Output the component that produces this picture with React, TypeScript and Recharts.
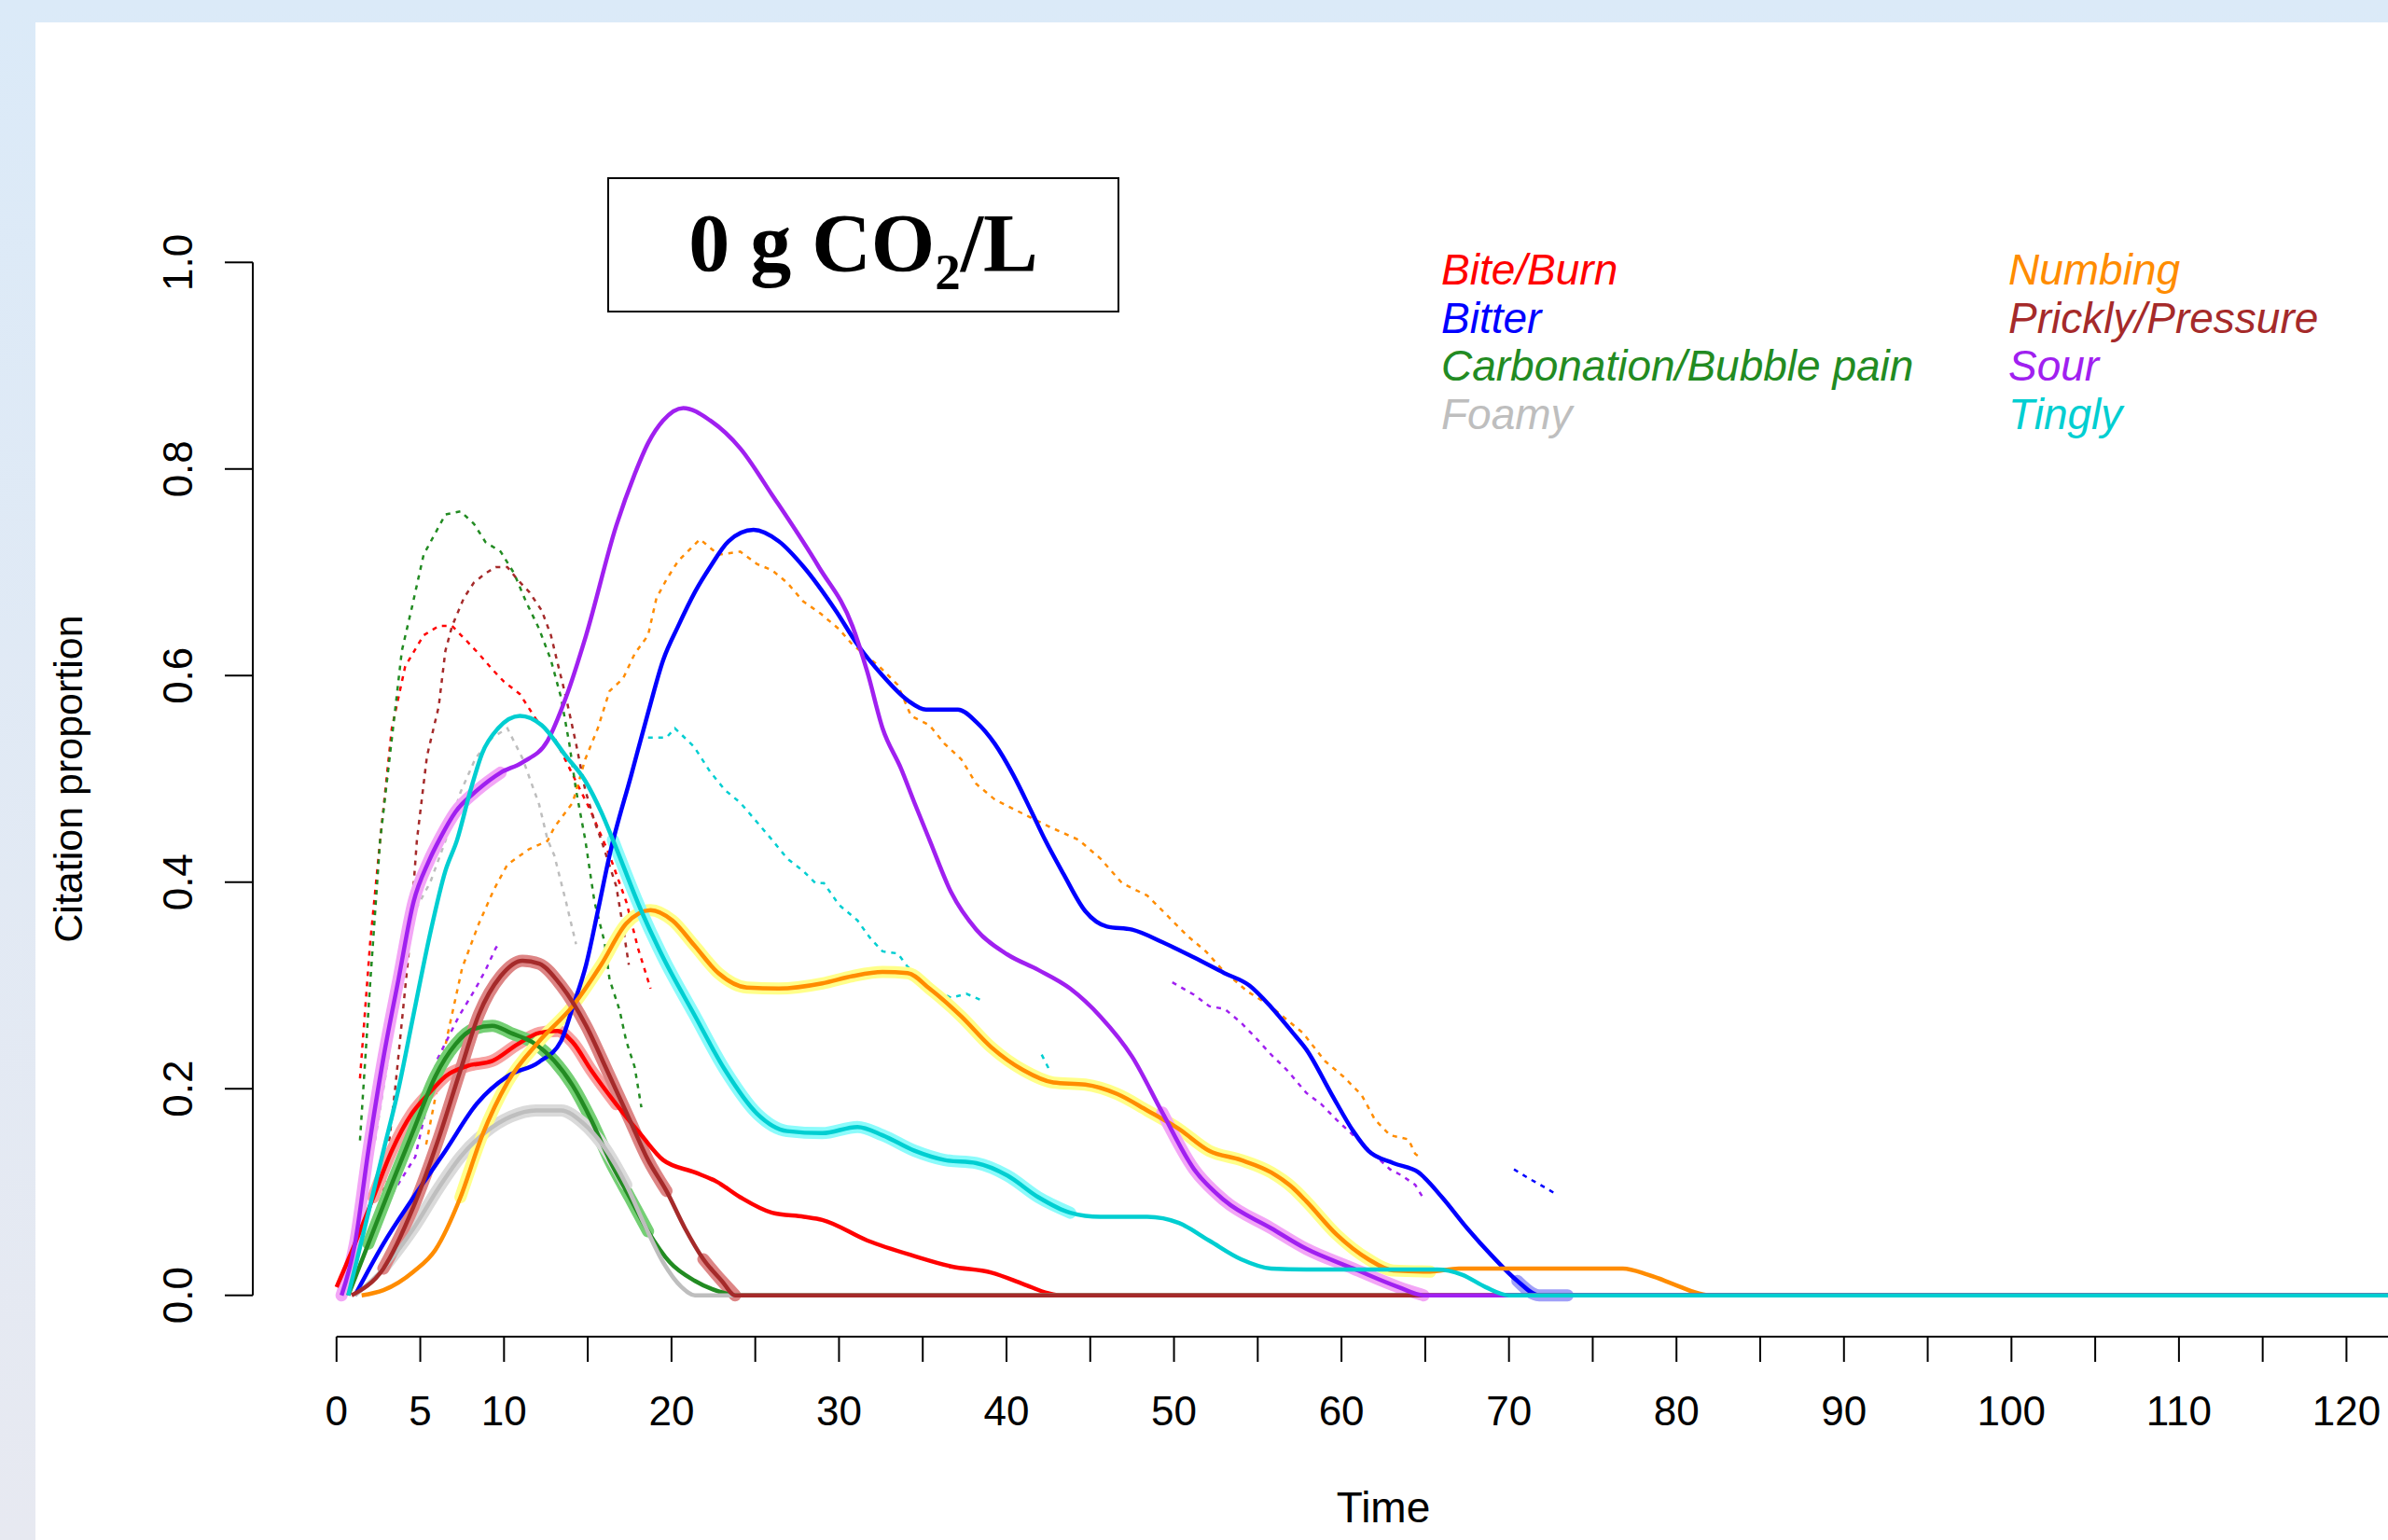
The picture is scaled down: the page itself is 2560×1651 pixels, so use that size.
import React from 'react';
import { LineChart, Line, XAxis, YAxis, ReferenceLine, Legend } from 'recharts';

type Pt = [number, number | null];

// ---------- labels / categories ----------
const seriesNames = ['Bite/Burn', 'Bitter', 'Carbonation/Bubble pain', 'Foamy', 'Numbing', 'Prickly/Pressure', 'Sour', 'Tingly'];
const seriesColors = ['#FF0000', '#0000FF', '#228B22', '#BEBEBE', '#FF8C00', '#A52A2A', '#A020F0', '#00CED1'];
const haloColors = ['#F7A1A1', '#A0A0F8', '#74CF74', '#DADADA', '#FFFF8A', '#DD8585', '#F3A6F6', '#8CFBFB'];

const xTickValues = [0, 5, 10, 15, 20, 25, 30, 35, 40, 45, 50, 55, 60, 65, 70, 75, 80, 85, 90, 95, 100, 105, 110, 115, 120, 125];
const xTickLabels = ['0', '5', '10', '', '20', '', '30', '', '40', '', '50', '', '60', '', '70', '', '80', '', '90', '', '100', '', '110', '', '120', ''];
const yTickValues = [0, 0.2, 0.4, 0.6, 0.8, 1];
const yTickLabels = ['0.0', '0.2', '0.4', '0.6', '0.8', '1.0'];

const titleMain = '0 g CO';
const titleSub = '2';
const titleTail = '/L';
const xAxisTitle = 'Time';
const yAxisTitle = 'Citation proportion';

// ---------- smoothed curves (solid) ----------
const smoothBiteBurn: Pt[] = [[0,0.008],[1.1,0.05],[2.2,0.095],[3.3,0.14],[4.5,0.176],[5.6,0.197],[6.5,0.212],[7.8,0.222],[9.3,0.227],[10.8,0.243],[12.1,0.254],[13.2,0.256],[14.1,0.245],[15.2,0.218],[16.7,0.185],[18.2,0.155],[19.5,0.131],[21.4,0.119],[22.7,0.11],[24.1,0.095],[26,0.08],[27.9,0.076],[29,0.073],[31.7,0.053],[34.5,0.038],[36.7,0.028],[39.1,0.022],[41,0.011],[42.5,0.002],[43.2,0],[125,0]];
const smoothBitter: Pt[] = [[1.1,0],[2.8,0.05],[4.6,0.095],[6.5,0.14],[8.4,0.186],[10.2,0.212],[12.1,0.226],[13.4,0.246],[14.1,0.279],[14.9,0.32],[15.6,0.372],[16.3,0.426],[17.6,0.504],[18.6,0.564],[19.5,0.615],[20.4,0.648],[21.4,0.681],[22.3,0.705],[23.4,0.73],[24.9,0.741],[26.4,0.73],[27.9,0.705],[29.8,0.663],[31.1,0.63],[32.6,0.6],[34.1,0.576],[35.2,0.567],[37.1,0.567],[38.2,0.555],[39.3,0.534],[40.4,0.504],[41.5,0.468],[42.3,0.441],[43.4,0.408],[44.7,0.372],[46,0.357],[47.5,0.354],[49.3,0.342],[51.2,0.327],[53,0.312],[54.5,0.3],[55.8,0.279],[57.1,0.254],[57.9,0.238],[59.4,0.195],[60.7,0.159],[61.6,0.14],[63.1,0.128],[64.6,0.119],[66,0.095],[67.5,0.065],[69,0.038],[70.5,0.014],[71.8,0],[73.5,0],[125,0]];
const smoothCarbonation: Pt[] = [[0.7,0],[1.9,0.05],[3.2,0.104],[4.6,0.16],[5.9,0.212],[7.1,0.243],[8.2,0.258],[9.3,0.261],[10.4,0.254],[11.7,0.245],[13,0.227],[14.1,0.203],[15.2,0.17],[16.3,0.131],[17.5,0.095],[18.6,0.062],[19.9,0.032],[21.4,0.014],[23.2,0.002],[23.8,0],[125,0]];
const smoothFoamy: Pt[] = [[1.1,0],[2.8,0.026],[4.6,0.065],[6.1,0.104],[7.4,0.134],[8.9,0.158],[10.4,0.173],[11.9,0.179],[13.4,0.179],[14.7,0.167],[16,0.143],[17.3,0.107],[18.4,0.068],[19.5,0.032],[20.6,0.008],[21.4,0],[125,0]];
const smoothNumbing: Pt[] = [[1.5,0],[2.8,0.005],[4.6,0.023],[5.9,0.044],[7.4,0.095],[8.7,0.155],[10.2,0.206],[12.1,0.246],[14.1,0.28],[15.8,0.32],[17.3,0.36],[18.75,0.373],[20.05,0.363],[21.35,0.339],[22.8,0.312],[24.5,0.298],[26.4,0.297],[29,0.302],[30.8,0.309],[32.6,0.313],[34.1,0.312],[35.4,0.297],[37.3,0.27],[39.1,0.24],[41,0.218],[42.8,0.206],[44.7,0.204],[46.6,0.195],[48.4,0.179],[50.3,0.161],[52.1,0.14],[54,0.131],[55.8,0.119],[57.1,0.104],[57.9,0.091],[59.7,0.059],[61.6,0.035],[63.1,0.024],[65.3,0.023],[67,0.026],[76.8,0.026],[78.3,0.02],[79.8,0.011],[81.3,0.002],[82,0],[125,0]];
const smoothPrickly: Pt[] = [[0.9,0],[2.8,0.026],[4.6,0.086],[6.1,0.152],[7.4,0.218],[8.5,0.272],[9.8,0.309],[11.1,0.324],[12.1,0.321],[13.4,0.3],[14.9,0.261],[16.2,0.216],[17.5,0.17],[18.6,0.131],[19.7,0.101],[20.8,0.065],[21.9,0.035],[23,0.014],[23.8,0],[125,0]];
const smoothSour: Pt[] = [[0.3,0],[1.1,0.05],[1.9,0.14],[2.8,0.23],[3.7,0.306],[4.6,0.381],[5.5,0.42],[6.2,0.443],[7.1,0.468],[8.4,0.489],[9.8,0.506],[11.1,0.516],[12.6,0.537],[13.7,0.579],[14.9,0.639],[16.7,0.745],[17.8,0.795],[18.6,0.825],[19.5,0.847],[20.7,0.859],[22.3,0.847],[24.1,0.82],[26,0.775],[28.8,0.705],[30.8,0.648],[31.7,0.603],[32.6,0.549],[33.7,0.51],[34.5,0.477],[35.4,0.441],[36.7,0.39],[38.2,0.354],[40.05,0.33],[41.9,0.315],[43.8,0.297],[45.6,0.27],[47.5,0.231],[49.3,0.177],[51.2,0.122],[53,0.092],[55.8,0.065],[57.9,0.045],[60.7,0.026],[63.4,0.008],[64.9,0],[125,0]];
const smoothTingly: Pt[] = [[0.7,0],[1.9,0.08],[2.8,0.14],[3.7,0.2],[4.6,0.272],[5.6,0.351],[6.5,0.411],[7.2,0.441],[8,0.489],[8.7,0.525],[9.65,0.549],[10.95,0.561],[12.25,0.552],[13.7,0.522],[14.85,0.498],[15.8,0.468],[16.5,0.441],[18.2,0.372],[19.5,0.327],[21.35,0.272],[23.2,0.218],[25.1,0.176],[26.9,0.159],[29,0.157],[31.1,0.163],[32.6,0.155],[34.5,0.14],[36.3,0.131],[38.2,0.128],[40.05,0.116],[41.9,0.095],[43.8,0.08],[45.6,0.076],[48.4,0.076],[50.3,0.07],[52.1,0.053],[54,0.035],[55.8,0.026],[57.9,0.025],[65.7,0.025],[67.2,0.02],[68.6,0.008],[70,0],[125,0]];

// ---------- raw citation proportions (dotted) ----------
const rawBiteBurn: Pt[] = [[1.4,0.21],[2.0,0.34],[2.6,0.44],[3.3,0.549],[4.1,0.609],[5.2,0.639],[6.1,0.648],[6.9,0.648],[7.8,0.633],[8.5,0.621],[9.3,0.606],[10,0.594],[10.95,0.582],[11.9,0.558],[13,0.54],[14.1,0.504],[15.2,0.468],[16.3,0.426],[17.3,0.381],[18,0.336],[18.75,0.297]];
const rawBitter: Pt[] = [[70.3,0.122],[71.2,0.113],[72.2,0.104],[72.9,0.097]];
const rawCarbonation: Pt[] = [[1.4,0.15],[2.0,0.3],[2.6,0.44],[3.5,0.567],[3.9,0.624],[4.5,0.666],[5.2,0.717],[5.9,0.738],[6.5,0.756],[7.4,0.759],[8.2,0.747],[8.9,0.729],[9.8,0.72],[10.6,0.699],[11.3,0.672],[12.1,0.645],[12.8,0.615],[13.4,0.579],[13.9,0.534],[14.3,0.489],[14.85,0.441],[15.4,0.381],[16,0.342],[16.3,0.306],[16.9,0.276],[17.3,0.246],[17.8,0.221],[18.2,0.182]];
const rawFoamy: Pt[] = [[2.3,0.15],[3.0,0.22],[3.7,0.3],[4.6,0.37],[5.6,0.4],[6.5,0.44],[7.4,0.487],[8.3,0.52],[9.3,0.54],[10.2,0.549],[11.1,0.52],[12.1,0.475],[12.6,0.441],[13,0.426],[13.7,0.381],[14.3,0.34]];
const rawNumbing: Pt[] = [[5.35,0.146],[6.0,0.2],[6.6,0.25],[7.5,0.317],[8.5,0.36],[9.4,0.393],[10.2,0.417],[11.5,0.432],[12.6,0.44],[13,0.453],[14.1,0.477],[14.85,0.519],[15.6,0.549],[16.3,0.585],[17.1,0.597],[17.8,0.621],[18.6,0.639],[19.1,0.675],[19.7,0.693],[20.4,0.711],[21.7,0.732],[22.8,0.717],[24.1,0.72],[25.1,0.708],[26,0.702],[26.9,0.69],[27.85,0.672],[28.9,0.66],[30,0.645],[30.8,0.63],[32.4,0.609],[33.5,0.591],[34.3,0.561],[35.4,0.552],[36.3,0.534],[37.3,0.519],[38.2,0.495],[39.3,0.48],[40.4,0.471],[41.5,0.462],[42.65,0.453],[44.3,0.441],[45.6,0.423],[46.9,0.399],[48.4,0.387],[49.7,0.366],[50.8,0.348],[51.9,0.333],[52.9,0.315],[54.4,0.294],[55.6,0.282],[57.7,0.254],[59,0.227],[60.1,0.212],[61.2,0.194],[62,0.17],[62.9,0.155],[64,0.151],[64.4,0.137],[64.65,0.134]];
const rawPrickly: Pt[] = [[2.8,0.1],[3.5,0.2],[4.3,0.33],[4.8,0.441],[5.4,0.522],[6.1,0.57],[6.5,0.624],[6.9,0.648],[7.6,0.675],[8.2,0.69],[8.9,0.699],[9.5,0.705],[10.2,0.705],[10.8,0.693],[11.5,0.681],[12.25,0.663],[12.8,0.639],[13.2,0.612],[13.7,0.579],[14.3,0.534],[14.85,0.489],[15.4,0.459],[15.8,0.441],[16.7,0.396],[17.1,0.357],[17.45,0.32]];
const rawSour: Pt[] = [[3.0,0.09],[4.7,0.134],[6.0,0.228],[7.3,0.27],[8.3,0.297],[8.9,0.315],[9.5,0.336],[9.75,0.342],[30,null],[49.9,0.303],[51.2,0.291],[52.1,0.28],[53.05,0.277],[54,0.264],[54.9,0.249],[55.8,0.233],[56.75,0.218],[57.9,0.196],[58.8,0.185],[59.7,0.17],[60.7,0.155],[62.9,0.122],[63.6,0.116],[64.4,0.107],[64.85,0.095]];
const rawTingly: Pt[] = [[18.6,0.54],[19.7,0.54],[20.2,0.549],[21.35,0.531],[22.3,0.507],[23.2,0.489],[24.1,0.477],[24.9,0.462],[26,0.441],[26.9,0.423],[27.85,0.411],[28.6,0.399],[29.1,0.399],[30,0.378],[31.1,0.363],[31.9,0.345],[32.6,0.333],[33.5,0.331],[34.1,0.318],[34.85,0.309],[36,0.294],[36.7,0.288],[37.6,0.292],[38.6,0.285],[40,null],[42.1,0.233],[42.6,0.217]];

// ---------- highlighted (significant) time ranges ----------
const haloBiteBurn = [[1.5, 17]];
const haloBitter = [[70, 73.5]];
const haloCarbonation = [[1.5, 18.6]];
const haloFoamy = [[1.5, 17.3]];
const haloNumbing = [[7.4, 65.3]];
const haloPrickly = [[1.5, 19.7], [21.9, 23.8]];
const haloSour = [[0.3, 9.8], [49.3, 64.9]];
const haloTingly = [[16.5, 43.8]];

const smoothSeries = [smoothBiteBurn, smoothBitter, smoothCarbonation, smoothFoamy, smoothNumbing, smoothPrickly, smoothSour, smoothTingly];
const rawSeries = [rawBiteBurn, rawBitter, rawCarbonation, rawFoamy, rawNumbing, rawPrickly, rawSour, rawTingly];
const haloSeries = [haloBiteBurn, haloBitter, haloCarbonation, haloFoamy, haloNumbing, haloPrickly, haloSour, haloTingly];

const toPts = (arr: Pt[]) => arr.map(([x, y]) => ({ x, y }));
const haloPts = (arr: Pt[], ranges: number[][]) => {
  const out: { x: number; y: number | null }[] = [];
  ranges.forEach(([a, b], i) => {
    if (i > 0) out.push({ x: (ranges[i - 1][1] + a) / 2, y: null });
    arr.filter(([x]) => x >= a && x <= b).forEach(([x, y]) => out.push({ x, y }));
  });
  return out;
};

const FONT = '"Liberation Sans", Arial, sans-serif';

const renderYTick = (props: any) => {
  const { x, y, payload } = props;
  const i = yTickValues.indexOf(payload.value);
  return (
    <text x={x} y={y} transform={`rotate(-90, ${x}, ${y})`} textAnchor="middle" fontSize={44} fontFamily={FONT} fill="#000">
      {i >= 0 ? yTickLabels[i] : ''}
    </text>
  );
};

const renderXLabel = (props: any) => {
  const vb = props.viewBox || { x: 271, y: 1433, width: 2424, height: 150 };
  return (
    <text x={vb.x + vb.width / 2} y={vb.y + 199} textAnchor="middle" fontSize={46} fontFamily={FONT} fill="#000">
      {xAxisTitle}
    </text>
  );
};

const renderYLabel = (props: any) => {
  const vb = props.viewBox || { x: 171, y: 237, width: 100, height: 1196 };
  const cx = 88;
  const cy = vb.y + vb.height / 2;
  return (
    <text x={cx} y={cy} transform={`rotate(-90, ${cx}, ${cy})`} textAnchor="middle" fontSize={43} fontFamily={FONT} fill="#000">
      {yAxisTitle}
    </text>
  );
};

const LEG_LEFT = 1500;
const LEG_TOP = 240;
const renderLegend = () => (
  <svg width={1100} height={260} style={{ display: 'block' }}>
    {seriesNames.map((n, i) => {
      const col = Math.floor(i / 4);
      const row = i % 4;
      return (
        <text key={n} x={col === 0 ? 45 : 653} y={65 + row * 51.7} fontSize={46} fontStyle="italic" fontFamily={FONT} fill={seriesColors[i]}>
          {n}
        </text>
      );
    })}
  </svg>
);

export default function App() {
  return (
    <div style={{ position: 'absolute', left: 0, top: 0, width: 2560, height: 1651, overflow: 'hidden', background: 'linear-gradient(180deg, #DBEAF8 0%, #E7E9F1 100%)' }}>
      <div style={{ position: 'absolute', left: 38, top: 24, right: 0, bottom: 0, background: '#FFFFFF' }} />
      <div style={{ position: 'absolute', left: 0, top: 0 }}>
        <LineChart width={2700} height={1651} margin={{ top: 237, right: 5, bottom: 68, left: 171 }}>
          <XAxis
            type="number"
            dataKey="x"
            domain={[-5, 130]}
            allowDataOverflow
            ticks={xTickValues}
            interval={0}
            tickFormatter={(v: number) => xTickLabels[xTickValues.indexOf(v)] ?? ''}
            axisLine={false}
            tickLine={{ stroke: '#000', strokeWidth: 2 }}
            tickSize={27}
            tickMargin={37}
            tick={{ fontSize: 44, fill: '#000', fontFamily: FONT }}
            height={150}
            label={renderXLabel}
          />
          <YAxis
            type="number"
            domain={[-0.04, 1.04]}
            allowDataOverflow
            ticks={yTickValues}
            interval={0}
            width={100}
            axisLine={false}
            tickLine={{ stroke: '#000', strokeWidth: 2 }}
            tickSize={30}
            tickMargin={35}
            tick={renderYTick}
            label={renderYLabel}
          />
          <ReferenceLine segment={[{ x: 0, y: -0.04 }, { x: 125, y: -0.04 }]} stroke="#000" strokeWidth={2} ifOverflow="visible" />
          <ReferenceLine segment={[{ x: -5, y: 0 }, { x: -5, y: 1 }]} stroke="#000" strokeWidth={2} ifOverflow="visible" />
          <Legend layout="horizontal" verticalAlign="middle" align="center" content={renderLegend}
            wrapperStyle={{ position: 'absolute', left: LEG_LEFT, top: LEG_TOP, width: 1100, height: 260 }} />

          {rawSeries.map((arr, i) => (
            <Line key={'raw' + i} data={toPts(arr)} dataKey="y" type="linear" stroke={seriesColors[i]} strokeWidth={2.5}
              strokeDasharray="5 6" dot={false} activeDot={false} isAnimationActive={false} legendType="none" connectNulls={false} />
          ))}
          {haloSeries.map((ranges, i) => (
            <Line key={'halo' + i} data={haloPts(smoothSeries[i], ranges)} dataKey="y" type="monotone" stroke={haloColors[i]} strokeWidth={13}
              strokeLinecap="round" strokeLinejoin="round" dot={false} activeDot={false} isAnimationActive={false} legendType="none" connectNulls={false} />
          ))}
          {smoothSeries.map((arr, i) => (
            <Line key={'sm' + i} data={toPts(arr)} dataKey="y" type="monotone" stroke={seriesColors[i]} strokeWidth={4.5}
              strokeLinejoin="round" dot={false} activeDot={false} isAnimationActive={false} legendType="none" />
          ))}
        </LineChart>
      </div>
      <div style={{ position: 'absolute', left: 651, top: 190, width: 549, height: 145, border: '2px solid #000', boxSizing: 'border-box', background: '#fff' }}>
        <svg width={545} height={141} style={{ display: 'block' }}>
          <text x={272.5} y={98} textAnchor="middle" fontSize={88} fontWeight="bold" fontFamily='"Liberation Serif", "Times New Roman", serif' fill="#000">
            {titleMain}
            <tspan fontSize={55} dy={20}>{titleSub}</tspan>
            <tspan dy={-20}>{titleTail}</tspan>
          </text>
        </svg>
      </div>
    </div>
  );
}
